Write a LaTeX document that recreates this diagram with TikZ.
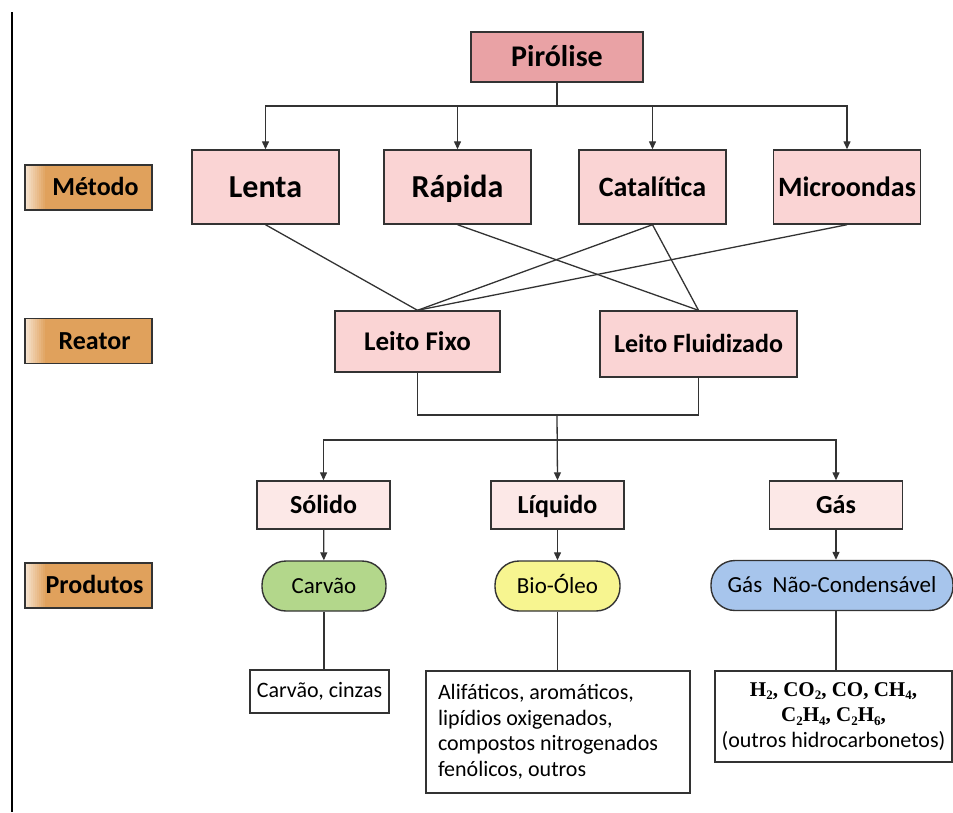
\documentclass[tikz,border=0pt]{standalone}
\usepackage{fontspec}
\setmainfont{Carlito}
\newfontfamily\formfont{Liberation Serif}
\usetikzlibrary{arrows.meta, positioning}

\definecolor{linegray}{HTML}{333333}
\definecolor{pirpink}{HTML}{E9A2A5}
\definecolor{boxpink}{HTML}{FAD4D4}
\definecolor{palepink}{HTML}{FCE8E7}
\definecolor{carvgreen}{HTML}{B3D78B}
\definecolor{oleoyellow}{HTML}{F7F590}
\definecolor{gasblue}{HTML}{A7C5EC}
\definecolor{tagorange}{HTML}{E0A15C}

\newcommand{\chemsub}[1]{\raisebox{-0.35ex}{\fontsize{13}{13}\selectfont#1}}

\tikzset{
  box/.style={draw=linegray, line width=1.4pt, rectangle, inner sep=2pt, text depth=0pt},
  pirbox/.style={box, fill=pirpink, minimum width=172pt, minimum height=50pt,
    text height=19.3pt, font=\bfseries\fontsize{30}{34}\selectfont},
  metbox/.style={box, fill=boxpink, minimum width=147pt, minimum height=74pt},
  bigtxt/.style={text height=20.6pt, font=\bfseries\fontsize{32}{36}\selectfont},
  midtxt/.style={text height=18pt, font=\bfseries\fontsize{28}{32}\selectfont},
  reabox/.style={box, fill=boxpink, minimum height=61pt, text height=17.4pt,
    font=\bfseries\fontsize{27}{30}\selectfont},
  fasebox/.style={box, fill=palepink, minimum width=133pt, minimum height=48pt,
    text height=16.7pt, font=\bfseries\fontsize{26}{30}\selectfont},
  prodpill/.style={box, rounded corners=24pt, minimum height=50pt,
    text height=14.8pt, font=\fontsize{23}{27}\selectfont},
  listbox/.style={draw=linegray, line width=1.2pt, fill=white,
    font=\frenchspacing\fontsize{22}{25.5}\selectfont},
  tagbox/.style={box, fill=tagorange, minimum width=127pt, minimum height=45pt,
    text height=16.7pt, font=\bfseries\fontsize{26}{30}\selectfont,
    path picture={
      \foreach \k in {0,...,9}{
        \pgfmathsetmacro\pc{30+7*\k}
        \fill[tagorange!\pc!white]
          ([xshift={2*\k pt}]path picture bounding box.north west)
          rectangle ([xshift={2*\k pt+2.3pt}]path picture bounding box.south west);
      }}},
  link/.style={draw=linegray, line width=1.3pt},
  arr/.style={link, -{Triangle[length=8pt, width=7pt]}},
}

\begin{document}
\begin{tikzpicture}[x=1pt, y=-1pt]
\useasboundingbox (0,0) rectangle (953,812);
\draw[black, line width=1.3pt] (12,12) -- (12,812);

% topo e metodos
\node[pirbox] (pirolise) at (557,57) {Pirólise};
\node[metbox, bigtxt] (lenta) at (265.5,187) {Lenta};
\node[metbox, bigtxt] (rapida) at (457.5,187) {Rápida};
\node[metbox, midtxt] (catalitica) at (652.5,187) {Catalítica};
\node[metbox, midtxt] (microondas) at (847,187) {Microondas};

% etiquetas
\node[tagbox] (metodo) at (88.5,187.5) {\hspace*{14pt}Método};
\node[tagbox] (reator) at (88.5,341) {\hspace*{12pt}Reator};
\node[tagbox] (produtos) at (88.5,585.5) {\hspace*{12pt}Produtos};

% reatores
\node[reabox, minimum width=165pt] (fixo) at (417.5,341.5) {Leito Fixo};
\node[reabox, minimum width=197pt, minimum height=66pt, text height=16.7pt,
  font=\bfseries\fontsize{26}{30}\selectfont] (fluid) at (698.5,344) {Leito Fluidizado};

% fases
\node[fasebox] (solido) at (323.5,505) {Sólido};
\node[fasebox] (liquido) at (557.5,505) {Líquido};
\node[fasebox] (gas) at (836,505) {Gás};

% produtos
\node[prodpill, fill=carvgreen, minimum width=124pt] (carvao) at (324,586) {Carvão};
\node[prodpill, fill=oleoyellow, minimum width=125pt] (bioleo) at (557.5,586) {Bio-Óleo};
\node[prodpill, fill=gasblue, minimum width=242pt] (gnc) at (832,585.5) {Gás\ \ Não-Condensável};

\node[listbox, minimum width=139pt, minimum height=43pt] (cinzas) at (319.5,691.5) {Carvão, cinzas};
\node[listbox, text width=240pt, inner xsep=12pt, minimum height=122pt, align=flush left]
  (oleolist) at (558,732) {Alifáticos, aromáticos,\\ lipídios oxigenados,\\ compostos nitrogenados\\ fenólicos, outros};
\node[listbox, minimum width=237pt, minimum height=91pt, align=center] (gaslist) at (833.5,716.5)
  {{\formfont\bfseries\fontsize{21}{25.5}\selectfont H\chemsub{2}, CO\chemsub{2}, CO, CH\chemsub{4},}\\
   {\formfont\bfseries\fontsize{21}{25.5}\selectfont C\chemsub{2}H\chemsub{4}, C\chemsub{2}H\chemsub{6},}\\
   (outros hidrocarbonetos)};

% ligacoes
\coordinate (split1) at (557,106);
\draw[link] (pirolise) -- (split1);
\draw[arr] (split1) -| (lenta.north);
\draw[arr] (split1) -| (rapida.north);
\draw[arr] (split1) -| (catalitica.north);
\draw[arr] (split1) -| (microondas.north);

\draw[link] (lenta.south) -- (fixo.north);
\draw[link] (rapida.south) -- (fluid.north);
\draw[link] (catalitica.south) -- (fixo.north);
\draw[link] (catalitica.south) -- (fluid.north);
\draw[link] (microondas.south) -- (fixo.north);

\coordinate (join) at (557,415);
\coordinate (split2) at (557,440);
\draw[link] (fixo.south) |- (join) -| (fluid.south);
\draw[arr] (join) -- (liquido.north);
\draw[arr] (split2) -| (solido.north);
\draw[arr] (split2) -| (gas.north);

\draw[arr] (solido) -- (carvao);
\draw[arr] (liquido) -- (bioleo);
\draw[arr] (gas) -- (gas.south |- gnc.north);

\draw[link] (carvao.south) -- (carvao.south |- cinzas.north);
\draw[link] (bioleo.south) -- (bioleo.south |- oleolist.north);
\draw[link] (gas.south |- gnc.south) -- (gas.south |- gaslist.north);
\end{tikzpicture}
\end{document}
